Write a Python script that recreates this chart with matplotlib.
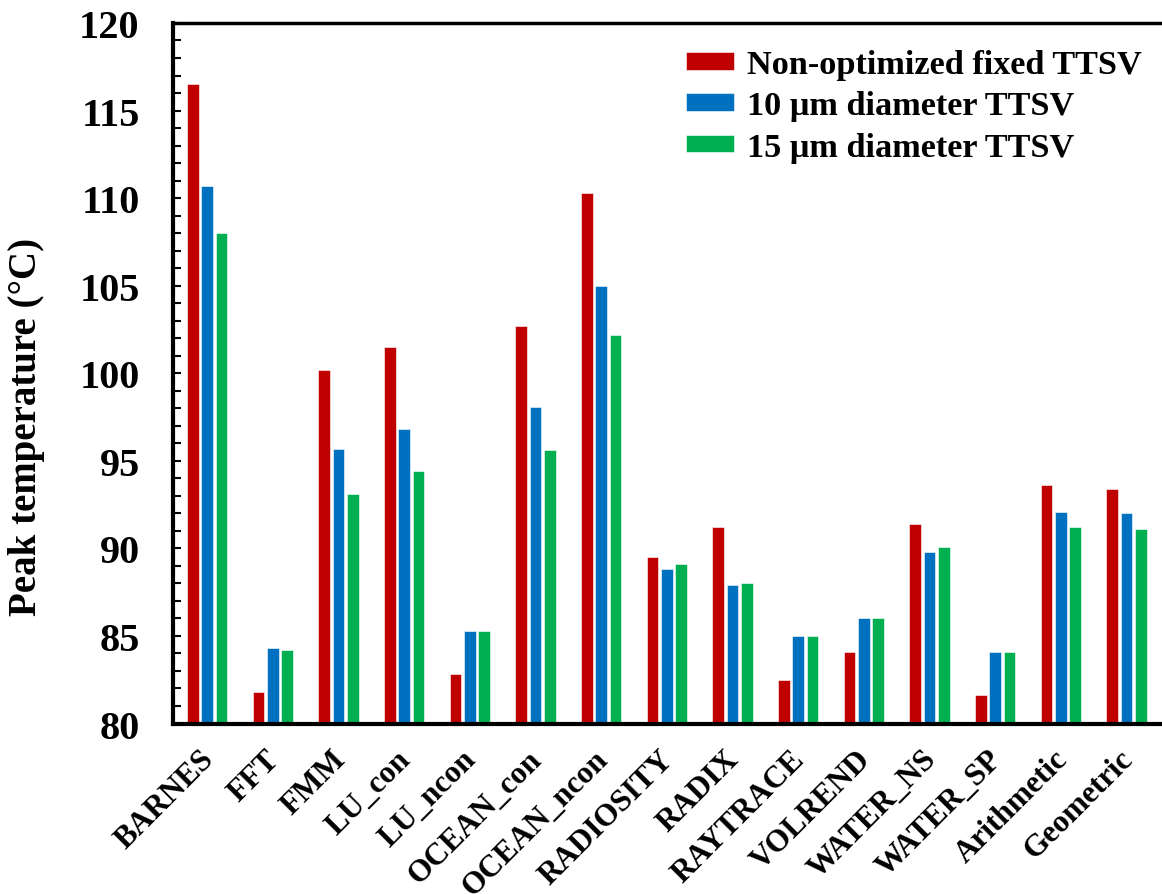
import numpy as np
import matplotlib.pyplot as plt
import matplotlib.transforms as mtransforms
from matplotlib.ticker import MultipleLocator

plt.rcParams['font.family'] = ['Liberation Serif', 'DejaVu Serif']
plt.rcParams['font.weight'] = 'bold'

benchmarks = ['BARNES', 'FFT', 'FMM', 'LU_con', 'LU_ncon', 'OCEAN_con', 'OCEAN_ncon',
              'RADIOSITY', 'RADIX', 'RAYTRACE', 'VOLREND', 'WATER_NS', 'WATER_SP',
              'Arithmetic', 'Geometric']
fixed_ttsv = [116.5, 81.8, 100.2, 101.5, 82.8, 102.7, 110.3, 89.5, 91.2, 82.5, 84.1,
              91.4, 81.6, 93.6, 93.4]
ttsv_10um = [110.7, 84.3, 95.7, 96.8, 85.3, 98.1, 105.0, 88.8, 87.9, 85.0, 86.0,
             89.8, 84.1, 92.1, 92.0]
ttsv_15um = [108.0, 84.2, 93.1, 94.4, 85.3, 95.6, 102.2, 89.1, 88.0, 85.0, 86.0,
             90.1, 84.1, 91.2, 91.1]

series = [
    ('Non-optimized fixed TTSV', fixed_ttsv, '#C00000'),
    ('10 \u03bcm diameter TTSV', ttsv_10um, '#0070C0'),
    ('15 \u03bcm diameter TTSV', ttsv_15um, '#00B050'),
]

fig = plt.figure(figsize=(11.62, 8.95), dpi=100)
ax = fig.add_axes([0.1489, 0.1905, 0.8511, 0.7827])

x = np.arange(len(benchmarks))
step = 0.218
width = 0.178
for k, (name, vals, color) in enumerate(series):
    ax.bar(x + (k - 1) * step, vals, width, color=color, label=name,
           edgecolor='white', linewidth=0.4)

ax.set_xlim(-0.52, 14.54)
ax.set_ylim(80, 120)
ax.yaxis.set_major_locator(MultipleLocator(5))
ax.yaxis.set_minor_locator(MultipleLocator(1))
ax.tick_params(axis='y', which='both', direction='in', length=6, width=1.5,
               labelsize=29, pad=24)
ax.tick_params(axis='x', length=0, labelsize=22.5, pad=15)
for lab in ax.get_yticklabels():
    lab.set_fontweight('bold')

ax.set_xticks(x)
ax.set_xticklabels(benchmarks, rotation=45, ha='right', rotation_mode='anchor',
                   fontweight='bold')
# nudge the slanted names a little to the left
shift = mtransforms.ScaledTranslation(-8 / 100, 0, fig.dpi_scale_trans)
for lab in ax.get_xticklabels():
    lab.set_transform(lab.get_transform() + shift)

for side in ['left', 'bottom']:
    ax.spines[side].set_linewidth(3)
ax.spines['top'].set_linewidth(2.5)
ax.spines['right'].set_visible(False)

ax.set_ylabel('Peak temperature (\u00b0C)', fontsize=28, fontweight='bold')
ax.yaxis.set_label_coords(-0.129, 0.425)

leg = ax.legend(loc='upper right', bbox_to_anchor=(1.0, 0.992), frameon=False,
                prop={'size': 24.7, 'weight': 'bold'}, handlelength=1.4,
                handleheight=0.42, handletextpad=0.36, labelspacing=0.3,
                borderaxespad=0.2)

fig.savefig('out.png', dpi=100)
